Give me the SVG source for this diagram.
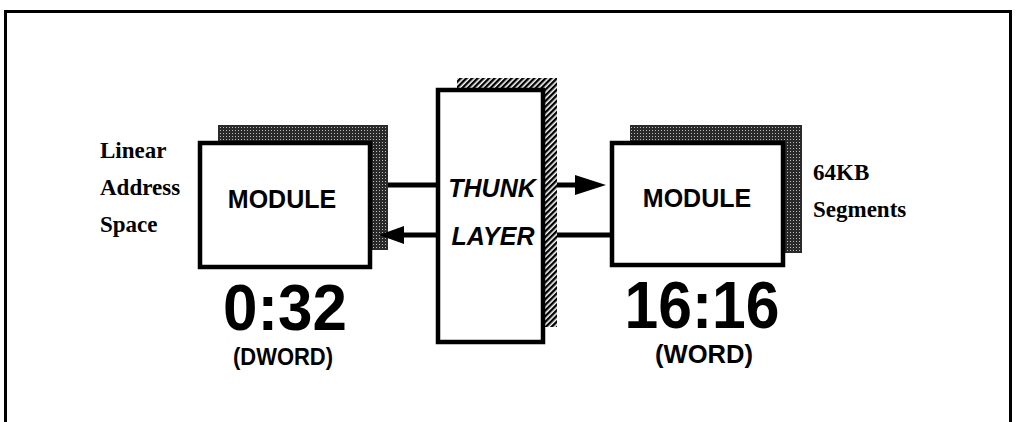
<svg xmlns="http://www.w3.org/2000/svg" width="1016" height="422" viewBox="0 0 1016 422">
<style>
.box{fill:#fff;stroke:#000;stroke-width:4.5}
.stip{fill:url(#stipple)}
.hatch{fill:url(#hatch)}
.line{stroke:#000;stroke-width:5;fill:none}
.head{fill:#000}
.sans{font-family:"Liberation Sans",Arial,sans-serif;font-weight:bold;fill:#000}
.serif{font-family:"Liberation Serif","Times New Roman",serif;font-weight:bold;fill:#000;font-size:23px}
</style>
<defs>
<pattern id="stipple" width="3" height="3" patternUnits="userSpaceOnUse">
<rect width="3" height="3" fill="#2a2a2a"/>
<rect x="1" y="1" width="1" height="1" fill="#bbb"/>
</pattern>
<pattern id="hatch" width="4" height="4" patternUnits="userSpaceOnUse" patternTransform="rotate(45)">
<rect width="4" height="4" fill="#fff"/>
<rect width="2.4" height="4" fill="#000"/>
</pattern>
</defs>
<rect id="frame" x="5.5" y="11.5" width="1005" height="420" fill="none" stroke="#000" stroke-width="3"/>
<g id="left-module">
<rect class="stip" x="218" y="125" width="170" height="125"/>
<rect class="box" x="200" y="143" width="170" height="124"/>
<text class="sans" x="282" y="208" font-size="25" text-anchor="middle">MODULE</text>
</g>
<g id="thunk-layer">
<rect class="hatch" x="457" y="78" width="100" height="249"/>
<rect class="box" x="438" y="90" width="105" height="252"/>
<text class="sans" x="492" y="197" font-size="25" font-style="italic" text-anchor="middle">THUNK</text>
<text class="sans" x="493" y="245" font-size="25" font-style="italic" text-anchor="middle">LAYER</text>
</g>
<g id="right-module">
<rect class="stip" x="630" y="125" width="172" height="128"/>
<rect class="box" x="612" y="143" width="171" height="122"/>
<text class="sans" x="697" y="207" font-size="25" text-anchor="middle">MODULE</text>
</g>
<g id="connectors">
<line class="line" x1="388" y1="185" x2="438" y2="185"/>
<line class="line" x1="557" y1="185" x2="578" y2="185"/>
<polygon class="head" points="575,175 606,185 575,195"/>
<line class="line" x1="400" y1="235" x2="438" y2="235"/>
<polygon class="head" points="404,226 379,235 404,244"/>
<line class="line" x1="557" y1="235" x2="612" y2="235"/>
</g>
<g id="labels">
<text class="serif" x="100" y="158">Linear</text>
<text class="serif" x="100" y="195">Address</text>
<text class="serif" x="100" y="232">Space</text>
<text class="serif" x="813" y="180">64KB</text>
<text class="serif" x="813" y="217">Segments</text>
<text class="sans" x="285" y="330" font-size="65" text-anchor="middle" textLength="124" lengthAdjust="spacingAndGlyphs">0:32</text>
<text class="sans" x="283" y="365" font-size="23" text-anchor="middle" textLength="100" lengthAdjust="spacingAndGlyphs">(DWORD)</text>
<text class="sans" x="702" y="328" font-size="66" text-anchor="middle" textLength="155" lengthAdjust="spacingAndGlyphs">16:16</text>
<text class="sans" x="704" y="363" font-size="25" text-anchor="middle" textLength="98" lengthAdjust="spacingAndGlyphs">(WORD)</text>
</g>
</svg>
